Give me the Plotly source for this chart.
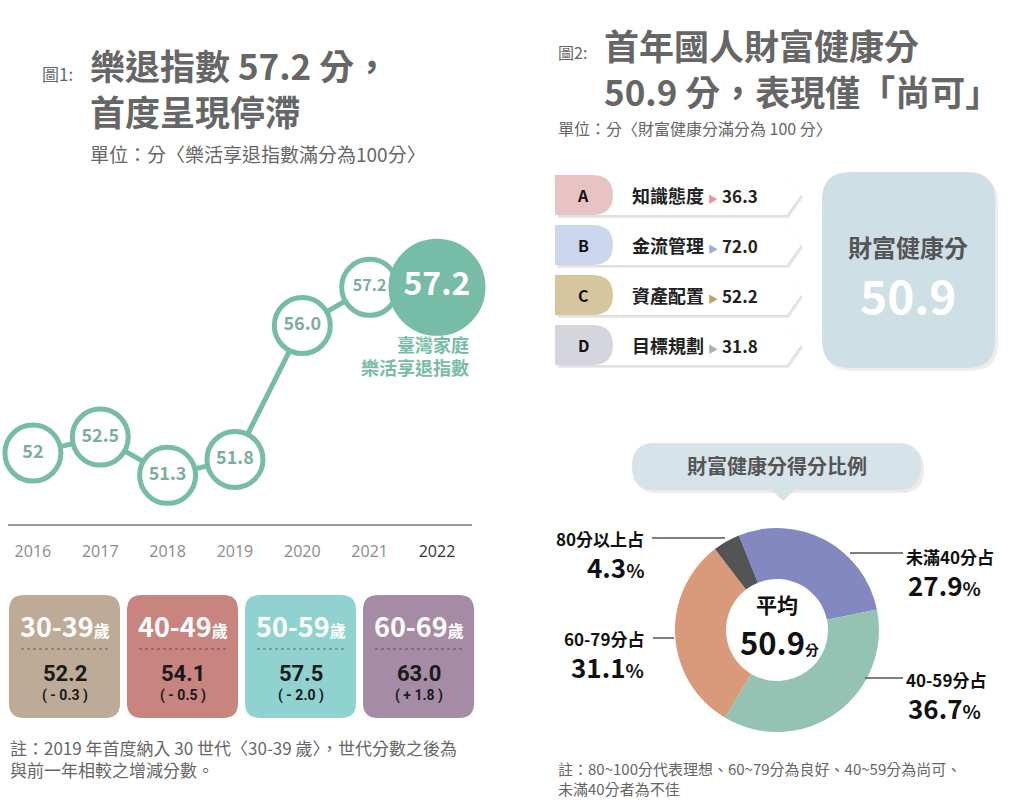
import plotly.graph_objects as go

# ---------------- data ----------------
years = [2016, 2017, 2018, 2019, 2020, 2021, 2022]
index_values = [52.0, 52.5, 51.3, 51.8, 56.0, 57.2, 57.2]
age_groups = ["30-39", "40-49", "50-59", "60-69"]
age_scores = [52.2, 54.1, 57.5, 63.0]
age_changes = [-0.3, -0.5, -2.0, 1.8]
dim_letters = ["A", "B", "C", "D"]
dim_names = ["知識態度", "金流管理", "資產配置", "目標規劃"]
dim_scores = [36.3, 72.0, 52.2, 31.8]
wealth_score = 50.9
dist_labels = ["未滿40分占", "40-59分占", "60-79分占", "80分以上占"]
dist_values = [27.9, 36.7, 31.1, 4.3]

# ---------------- helpers ----------------
W, H = 1024, 808
FONT = "Noto Sans CJK TC"
TEAL = "#76bca7"
TEXT_TEAL = "#7aae9f"
GRAY = "#666666"


def X(p):
    return p / W


def Y(p):
    return 1 - p / H


def pt(x, y):
    return f"{X(x):.5f},{Y(y):.5f}"


def rrect(x0, y0, x1, y1, r):
    return (f"M {pt(x0 + r, y0)} L {pt(x1 - r, y0)} Q {pt(x1, y0)} {pt(x1, y0 + r)} "
            f"L {pt(x1, y1 - r)} Q {pt(x1, y1)} {pt(x1 - r, y1)} "
            f"L {pt(x0 + r, y1)} Q {pt(x0, y1)} {pt(x0, y1 - r)} "
            f"L {pt(x0, y0 + r)} Q {pt(x0, y0)} {pt(x0 + r, y0)} Z")


shapes = []
annotations = []


def add_path(path, fill, line_color=None, width=0, layer="below"):
    shapes.append(dict(type="path", path=path, xref="paper", yref="paper",
                       fillcolor=fill, line=dict(color=line_color or fill, width=width),
                       layer=layer))


def add_line(x0, y0, x1, y1, color, width=1.5, dash="solid"):
    shapes.append(dict(type="line", xref="paper", yref="paper",
                       x0=X(x0), y0=Y(y0), x1=X(x1), y1=Y(y1),
                       line=dict(color=color, width=width, dash=dash), layer="above"))


def ann(text, x, y, size, color="#222", xanchor="center", family=FONT, align=None):
    annotations.append(dict(text=text, x=X(x), y=Y(y), xref="paper", yref="paper",
                            showarrow=False, xanchor=xanchor, yanchor="middle",
                            align=align or ("left" if xanchor == "left" else
                                            "right" if xanchor == "right" else "center"),
                            font=dict(size=size, color=color, family=family)))


fig = go.Figure()

# ---------------- left: line chart ----------------
labels = [f"{v:g}" if i == 0 else f"{v:.1f}" for i, v in enumerate(index_values)]
n = len(years)
fig.add_trace(go.Scatter(
    x=years, y=index_values, mode="lines+markers+text",
    line=dict(color=TEAL, width=5),
    marker=dict(size=[56] * (n - 1) + [92],
                color=["white"] * (n - 1) + [TEAL],
                line=dict(color=TEAL, width=5), opacity=1),
    text=[f"<b>{t}</b>" for t in labels],
    textposition="middle center",
    textfont=dict(family=FONT, color=[TEXT_TEAL] * (n - 1) + ["white"],
                  size=[18, 18, 18, 18, 18, 16, 32]),
    cliponaxis=False, hoverinfo="skip", xaxis="x", yaxis="y"))

ticktext = [str(y) for y in years[:-1]] + [f"<span style='color:#333'>{years[-1]}</span>"]

ann("<b>臺灣家庭<br>樂活享退指數</b>", 471, 356, 18, TEAL, xanchor="right")

# Titles left
ann("圖1:", 40, 74, 17, GRAY, xanchor="left")
ann("<b>樂退指數 57.2 分，<br>首度呈現停滯</b>", 88, 88, 35, GRAY, xanchor="left")
ann("單位：分〈樂活享退指數滿分為100分〉", 88, 153, 19, GRAY, xanchor="left")

# Age boxes
box_colors = ["#bdaa97", "#c8847e", "#90d2cf", "#a68ba5"]
for i, (g, s, c) in enumerate(zip(age_groups, age_scores, age_changes)):
    x0 = 9 + i * 118
    x1 = x0 + 111
    cx = (x0 + x1) / 2
    add_path(rrect(x0, 595, x1, 718, 15), box_colors[i])
    ann(f"<b>{g}</b><span style='font-size:16px'><b>歲</b></span>", cx, 625, 27, "white")
    add_line(x0 + 12, 649, x1 - 10, 649, "rgba(60,60,60,0.45)", 1.5, "dot")
    ann(f"<b>{s:.1f}</b>", cx, 673, 22, "#1a1a1a", family="Roboto")
    sign = "+" if c > 0 else "-"
    ann(f"<b>( {sign} {abs(c):.1f} )</b>", cx, 695, 14, "#1a1a1a", family="Roboto")

ann("註：2019 年首度納入 30 世代〈30-39 歲〉，世代分數之後為<br>與前一年相較之增減分數。",
    8, 758, 17, GRAY, xanchor="left")

# ---------------- right: titles ----------------
ann("圖2:", 556, 52, 16, GRAY, xanchor="left")
ann("<b>首年國人財富健康分<br>50.9 分，表現僅「尚可」</b>", 602, 68, 35, GRAY, xanchor="left")
ann("單位：分〈財富健康分滿分為 100 分〉", 556, 128, 16, GRAY, xanchor="left")

# Dimension rows
pill_colors = ["#e7c3c6", "#c9d6ec", "#d6c69e", "#d5d5dd"]
tri_colors = ["#e39aa5", "#97b3dc", "#b9a36c", "#aeaeb8"]
for i, (L, nm, sc) in enumerate(zip(dim_letters, dim_names, dim_scores)):
    yc = 195 + 50 * i
    t, b = yc - 20, yc + 20
    chevron = lambda dx, dy: (f"M {pt(556 + dx, t + dy)} L {pt(787 + dx, t + dy)} "
                              f"L {pt(801 + dx, yc + dy)} L {pt(787 + dx, b + dy)} "
                              f"L {pt(556 + dx, b + dy)} Z")
    add_path(chevron(2, 3), "rgba(0,0,0,0.08)")
    add_path(chevron(1, 1.5), "rgba(0,0,0,0.06)")
    add_path(chevron(0, 0), "white")
    pill = (f"M {pt(555, t)} L {pt(592, t)} Q {pt(613, t)} {pt(613, yc)} "
            f"Q {pt(613, b)} {pt(592, b)} L {pt(555, b)} Z")
    add_path(pill, pill_colors[i])
    ann(f"<b>{L}</b>", 583, yc, 16, "#111")
    ann(f"<b>{nm}</b> <span style='color:{tri_colors[i]};font-size:10px'>▶</span> "
        f"<span style='font-size:17px'><b>{sc:.1f}</b></span>",
        630, yc, 18, "#222", xanchor="left")

# Big score box
add_path(rrect(824, 175, 998, 371, 28), "rgba(0,0,0,0.07)")
add_path(rrect(822, 172, 995, 368, 28), "#cfdfe6")
ann("<b>財富健康分</b>", 908, 246, 24, "#555")
ann(f"<b>{wealth_score:.1f}</b>", 908, 294, 46, "white")

# Bubble header
add_path(rrect(634, 446, 924, 493, 23), "rgba(0,0,0,0.08)")
add_path(rrect(632, 443, 921, 490, 23), "#d6e4e9")
add_path(f"M {pt(770, 489)} L {pt(783, 501)} L {pt(796, 489)} Z", "#d6e4e9")
ann("<b>財富健康分得分比例</b>", 777, 466, 20, "#555")

# Donut
fig.add_trace(go.Pie(
    values=dist_values, labels=dist_labels, sort=False, direction="clockwise",
    rotation=-22, hole=0.5, textinfo="none", hoverinfo="skip",
    marker=dict(colors=["#8388c0", "#95c3b3", "#d99a7b", "#545454"], line=dict(width=0)),
    domain=dict(x=[X(675), X(879)], y=[Y(732), Y(528)]), showlegend=False))

ann("<b>平均</b>", 777, 604, 21, "#111")
ann("<b>50.9</b><span style='font-size:14px'><b>分</b></span>", 779, 641, 31, "#111")

# Donut labels: (label x, anchor, name y, line x0, line x1, line y)
label_layout = [
    (904, "left", 556, 850, 903, 553),
    (904, "left", 679, 865, 903, 678),
    (646, "right", 638, 653, 674, 638),
    (646, "right", 538, 652, 725, 538),
]
for (lx, anc, ly, a0, a1, lyy), nm, v in zip(label_layout, dist_labels, dist_values):
    ann(f"<b>{nm}</b>", lx, ly, 17, "#111", xanchor=anc)
    ann(f"<b>{v:.1f}</b><span style='font-size:19px'><b>%</b></span>", lx + (2 if anc == "left" else 0),
        ly + 28, 26, "#111", xanchor=anc)
    add_line(a0, lyy, a1, lyy, "#555", 1.5)

ann("註：80~100分代表理想、60~79分為良好、40~59分為尚可、<br>未滿40分者為不佳",
    556, 778, 15, GRAY, xanchor="left")

# ---------------- layout ----------------
fig.update_layout(
    width=W, height=H, margin=dict(l=0, r=0, t=0, b=0),
    paper_bgcolor="white", plot_bgcolor="white", showlegend=False,
    font=dict(family=FONT),
    xaxis=dict(domain=[X(8), X(472)], range=[2015.63, 2022.52],
               tickvals=years, ticktext=ticktext, showgrid=False, zeroline=False,
               showline=True, linecolor="#9a9a9a", linewidth=1.5, ticks="",
               ticklabelstandoff=12,
               tickfont=dict(size=16, color="#8a8a8a", family="Open Sans"),
               fixedrange=True),
    yaxis=dict(domain=[Y(524), Y(220)], range=[49.774, 59.313], visible=False,
               fixedrange=True),
    shapes=shapes, annotations=annotations,
)

fig.write_html("out.html", config={"displayModeBar": False},
               post_script="document.body.style.margin='0px';")
